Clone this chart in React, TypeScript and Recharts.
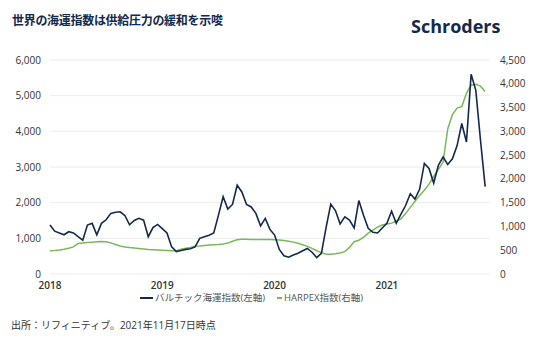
import React from 'react';
import { LineChart, Line, XAxis, YAxis, CartesianGrid, Legend } from 'recharts';

// semi-monthly samples, first point = start of 2018
const startYear = 2018;
const stepsPerYear = 24;

// Baltic Dry Index (left axis)
const bdi2018 = [1372, 1200, 1150, 1100, 1185, 1150, 1045, 950, 1372, 1420, 1100, 1420, 1520, 1700, 1730, 1745, 1640, 1380, 1500, 1560, 1510, 1045, 1300, 1390];
const bdi2019 = [1270, 1150, 760, 630, 660, 690, 710, 760, 1000, 1045, 1085, 1150, 1650, 2166, 1820, 1950, 2490, 2300, 1950, 1880, 1700, 1350, 1560, 1250];
const bdi2020 = [1092, 690, 510, 470, 530, 580, 650, 715, 610, 460, 580, 1300, 1960, 1780, 1400, 1600, 1510, 1290, 2060, 1650, 1280, 1170, 1150, 1290];
const bdi2021 = [1420, 1760, 1420, 1680, 1920, 2250, 2100, 2380, 3100, 2960, 2550, 3050, 3280, 3070, 3230, 3600, 4220, 3700, 5600, 5150, 3750, 2450];

// HARPEX (right axis)
const harpex2018 = [490, 495, 505, 520, 540, 570, 640, 650, 660, 670, 680, 685, 680, 655, 620, 590, 570, 555, 545, 535, 525, 515, 510, 505];
const harpex2019 = [500, 495, 490, 490, 520, 540, 560, 585, 590, 600, 610, 615, 620, 630, 650, 690, 720, 730, 730, 725, 725, 725, 725, 725];
const harpex2020 = [720, 715, 705, 690, 670, 645, 615, 580, 540, 490, 450, 415, 415, 425, 440, 470, 560, 680, 710, 770, 860, 925, 985, 1030];
const harpex2021 = [1050, 1070, 1110, 1160, 1270, 1400, 1530, 1650, 1760, 1890, 2050, 2200, 2350, 3050, 3350, 3490, 3520, 3800, 3970, 3990, 3950, 3840];

const yearTicks = [2018, 2019, 2020, 2021];
const leftTicks = [0, 1000, 2000, 3000, 4000, 5000, 6000];
const rightTicks = [0, 500, 1000, 1500, 2000, 2500, 3000, 3500, 4000, 4500];

const bdi = [...bdi2018, ...bdi2019, ...bdi2020, ...bdi2021];
const harpex = [...harpex2018, ...harpex2019, ...harpex2020, ...harpex2021];
const data = bdi.map((v, i) => ({ t: startYear + i / stepsPerYear, bdi: v, harpex: harpex[i] }));

const NAVY = '#13294b';
const GREEN = '#7ab85a';
const FONT = '"Open Sans", "Noto Sans CJK JP", sans-serif';

const fmt = (v: number) => v.toLocaleString('en-US');

const LegendBox = () => (
  <div style={{ height: 20, lineHeight: '20px', paddingLeft: 140, fontSize: 9.5, color: '#555', whiteSpace: 'nowrap', fontFamily: FONT }}>
    <span style={{ display: 'inline-block', width: 13, height: 2, background: NAVY, verticalAlign: 'middle', marginRight: 2 }} />
    <span>バルチック海運指数(左軸)</span>
    <span style={{ display: 'inline-block', width: 5, height: 2, background: GREEN, verticalAlign: 'middle', marginLeft: 12, marginRight: 2 }} />
    <span>HARPEX指数(右軸)</span>
  </div>
);

const App: React.FC = () => (
  <div style={{ position: 'relative', width: 540, height: 344, background: '#fff', fontFamily: FONT }}>
    <style>{'body{margin:0}'}</style>
    <div style={{ position: 'absolute', left: 12, top: 11, fontSize: 12, fontWeight: 700, color: NAVY, letterSpacing: -0.3 }}>
      世界の海運指数は供給圧力の緩和を示唆
    </div>
    <div style={{ position: 'absolute', left: 411, top: 14, fontSize: 18, fontWeight: 700, color: NAVY }}>
      Schroders
    </div>
    <div style={{ position: 'absolute', left: 0, top: 0 }}>
      <LineChart width={540} height={308} data={data} margin={{ top: 60, right: 0, bottom: 0, left: 0 }}>
        <CartesianGrid yAxisId="left" vertical={false} stroke="#ececec" />
        <XAxis
          dataKey="t"
          type="number"
          domain={[2018, 2021.918]}
          ticks={yearTicks}
          height={14}
          axisLine={false}
          tickLine={false}
          tickSize={0}
          tickMargin={8}
          tick={{ fontSize: 10, fill: '#333', fontWeight: 600 }}
        />
        <YAxis
          yAxisId="left"
          domain={[0, 6000]}
          ticks={leftTicks}
          width={50}
          axisLine={false}
          tickLine={false}
          tickSize={0}
          tickMargin={9}
          tickFormatter={fmt}
          tick={{ fontSize: 10, fill: '#333' }}
        />
        <YAxis
          yAxisId="right"
          orientation="right"
          domain={[0, 4500]}
          ticks={rightTicks}
          width={50}
          axisLine={false}
          tickLine={false}
          tickSize={0}
          tickMargin={10}
          tickFormatter={fmt}
          tick={{ fontSize: 10, fill: '#333', textAnchor: 'start' }}
        />
        <Legend verticalAlign="bottom" content={() => <LegendBox />} />
        <Line yAxisId="right" dataKey="harpex" stroke={GREEN} strokeWidth={1.5} dot={false} isAnimationActive={false} />
        <Line yAxisId="left" dataKey="bdi" stroke={NAVY} strokeWidth={1.6} dot={false} isAnimationActive={false} />
      </LineChart>
    </div>
    <div style={{ position: 'absolute', left: 11, top: 317, fontSize: 10, color: '#333' }}>
      出所：リフィニティブ。2021年11月17日時点
    </div>
  </div>
);

export default App;
